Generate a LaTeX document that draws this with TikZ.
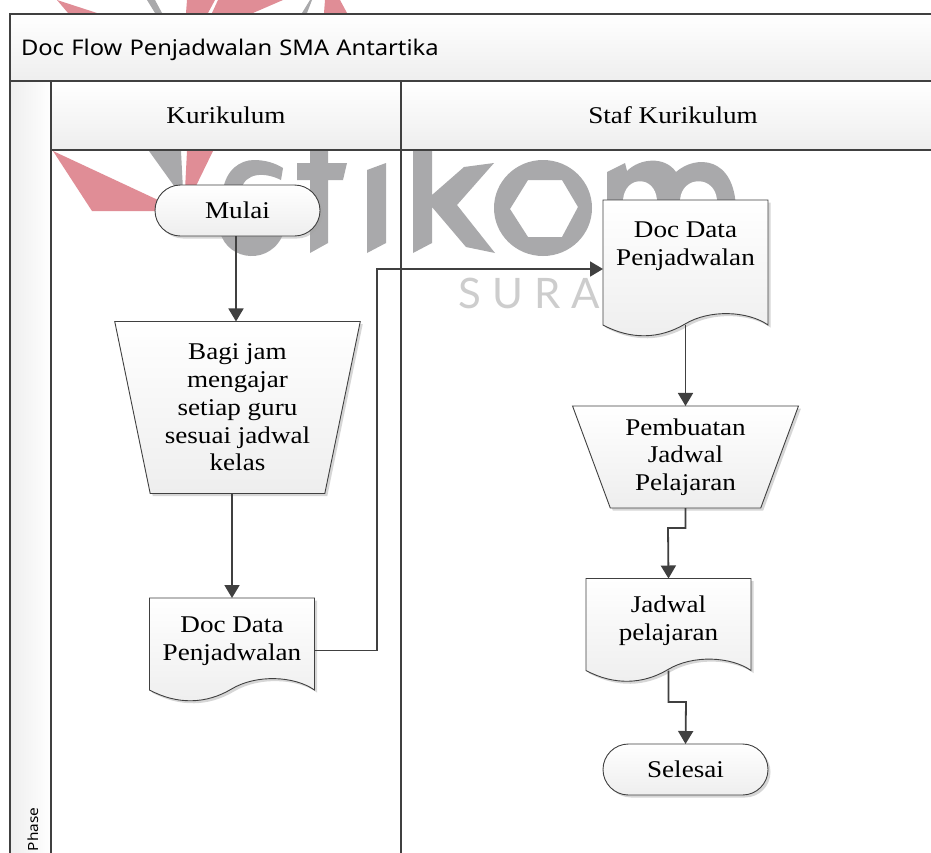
\documentclass[tikz,border=0pt]{standalone}
\usepackage{fontspec}
\setmainfont[FakeStretch=1.13]{Liberation Serif}
\newfontfamily\titlefont[FakeStretch=1.1]{Noto Sans}
\newfontfamily\logofont{Lato}
\usetikzlibrary{arrows.meta,shapes.geometric,shapes.misc,shadows,backgrounds}
\definecolor{linegray}{HTML}{404040}
\definecolor{bandgray}{HTML}{EEEEEE}
\definecolor{logored}{HTML}{E08D96}
\definecolor{logogray}{HTML}{A9A9AB}
\definecolor{logolight}{HTML}{CDCDCD}

\begin{document}
\begin{tikzpicture}[x=1pt,y=-1pt,>={Triangle[length=13pt,width=15pt]},
                    font=\fontsize{24}{27.7}\selectfont,align=center,outer sep=0pt]
  \tikzstyle{band}=[draw=linegray,line width=1.3pt,top color=white,bottom color=bandgray,inner sep=0pt]
  \tikzstyle{softshadow}=[drop shadow={shadow xshift=2.5pt,shadow yshift=-2.5pt,fill=black!35,opacity=.45}]
  \tikzstyle{shapefill}=[draw=linegray,line width=.9pt,top color=white,bottom color=bandgray,softshadow]
  \tikzstyle{terminal}=[rounded rectangle,shapefill,minimum width=165pt,minimum height=51pt,inner sep=0pt]
  \tikzstyle{manual}=[trapezium,shape border rotate=180,trapezium stretches=true,shapefill,inner sep=0pt]
  \tikzstyle{document}=[minimum width=165pt,inner sep=0pt]
  \tikzstyle{flow}=[->,draw=linegray,line width=1.8pt]
  \tikzstyle{logopart}=[fill=logored,draw=none]
  \tikzstyle{logoletter}=[fill=logogray,draw=none]

  \useasboundingbox (0,0) rectangle (931,852);
  \clip (0,0) rectangle (931,852);

  \begin{scope}[on background layer]
    \clip (0,0) rectangle (931,852);
    \fill[white] (0,0) rectangle (931,852);
    % logo behind the chart
    \path[logopart] (57,0) -- (97,13) -- (68,13) -- cycle;
    \path[logopart] (187,0) -- (215,0) -- (208,13) -- (186,13) -- cycle;
    \path[logopart] (218,0) -- (283,0) -- (253,13) -- (212,13) -- cycle;
    \path[logopart] (325,0) -- (340,0) -- (347,13) -- (324,13) -- cycle;
    \path[logopart] (53,151) -- (92,211) -- (158,211) -- (158,200) -- cycle;
    \path[logopart] (187,151) -- (213,151) -- (194,190) -- (185,190) -- cycle;
    \path[logoletter] (147,0) -- (155,0) -- (162,13) -- (155,13) -- cycle;
    \path[logoletter] (310,0) -- (312,0) -- (307,13) -- (302,13) -- cycle;
    \path[logoletter] (149,151) -- (181,151) -- (183,190) -- (177,190) -- cycle;
    \path[logoletter] (223,190) .. controls (226,170) and (240,160) .. (254,160)
        .. controls (265,160) and (275,163) .. (283,168) -- (281,180)
        .. controls (265,172) and (245,172) .. (241,190) -- cycle;
    \path[logoletter] (220,232) .. controls (228,262) and (272,266) .. (284,232) -- cycle;
    \path[logoletter] (310,151) -- (328,151) -- (328,163) -- (347,163) -- (343,180) -- (328,180)
        -- (328,243) -- (310,253) -- (310,180) -- (297,180) -- (297,163) -- (310,163) -- cycle;
    \path[logoletter] (367,170) -- (386,163) -- (386,243) -- (367,253) -- cycle;
    \path[logoletter] (413,151) -- (432,151) -- (432,195) -- (464,167) -- (494,163) -- (457,205)
        -- (495,253) -- (466,247) -- (432,207) -- (432,243) -- (413,253) -- cycle;
    \path[logoletter,even odd rule] (543,208) ellipse [x radius=49,y radius=48]
        (510,209) -- (528,180) -- (562,180) -- (578,207) -- (562,237) -- (528,237) -- cycle;
    \path[logoletter] (607,210) -- (607,172) -- (625,163) -- (627,171)
        .. controls (640,158) and (665,156) .. (676,172)
        .. controls (695,155) and (735,155) .. (736,210) -- cycle;
    \fill[white] (623,210) -- (623,200) .. controls (625,175) and (655,175) .. (657,200) -- (657,210) -- cycle;
    \fill[white] (680,210) -- (680,200) .. controls (682,175) and (715,175) .. (717,200) -- (717,210) -- cycle;
  \end{scope}
  \node[font=\logofont\fontsize{42}{42}\selectfont,text=logolight,anchor=west] (city) at (455,293) {S\hspace{11pt}U\hspace{11pt}R\hspace{11pt}A};

  % swimlane frame
  \node[band,anchor=north west,minimum width=950pt,minimum height=67pt,text width=929pt,align=left,inner xsep=11pt,text depth=1pt,
        font=\titlefont\fontsize{21.6}{24}\selectfont] (title) at (10,14) {Doc Flow Penjadwalan SMA Antartika};
  \node[band,anchor=north west,minimum width=41pt,minimum height=800pt,shading angle=-90] (phase) at (10,81) {};
  \node[band,anchor=north west,minimum width=350pt,minimum height=69pt] (lane1) at (51,81) {Kurikulum};
  \node[band,anchor=north west,minimum width=544pt,minimum height=69pt] (lane2) at (401,81) {Staf Kurikulum};
  \node[rotate=90,anchor=west,font=\titlefont\fontsize{14}{16}\selectfont,inner sep=0pt] (phaselabel) at (33,851) {Phase};
  \coordinate (lanefoot) at (401,881);
  \draw[draw=linegray,line width=1.3pt] (lane2.south west) -- (lanefoot);

  \node[terminal] (mulai) at (237.5,210.5) {Mulai};
  \node[manual,trapezium angle=76.9,minimum width=246pt,minimum height=172pt] (jam) [below of=mulai,node distance=197pt]
      {Bagi jam\\mengajar\\setiap guru\\sesuai jadwal\\kelas};
  \node[document,minimum height=86pt] (doc1) [below of=jam,node distance=233.5pt,xshift=-5.5pt] {Doc Data\\Penjadwalan};

  \node[document,minimum height=92pt] (doc2) [right of=mulai,node distance=448pt,yshift=-35.5pt] {Doc Data\\Penjadwalan};
  \node[manual,trapezium angle=68.6,minimum width=226pt,minimum height=102pt] (buat) [below of=doc2,node distance=211pt]
      {Pembuatan\\Jadwal\\Pelajaran};
  \node[document,minimum height=85pt] (doc3) [below of=buat,node distance=164pt,xshift=-17pt] {Jadwal\\pelajaran};
  \node[terminal] (selesai) [below of=doc3,node distance=148.5pt,xshift=17pt] {Selesai};

  \begin{scope}[on background layer]
    \clip (0,0) rectangle (931,852);
    \foreach \name/\extra in {doc1/6,doc2/33,doc3/7}
      \draw[shapefill] (\name.north west) -- (\name.north east) -- ([yshift=-\extra*1pt]\name.south east)
          .. controls +(-20,-14) and +(25,-15) .. ++(-83,-1)
          .. controls +(-25,15) and +(28,15) .. ([yshift=-\extra*1pt]\name.south west) -- cycle;
  \end{scope}

  \coordinate (bus1) at (377,269);
  \coordinate (bend2) at (668,528);
  \coordinate (bend3) at (686,702);

  \draw[flow] ([xshift=-1.5pt]mulai.south) -- (jam.north -| 236,0);
  \draw[flow] (jam.south -| doc1.north) -- (doc1.north);
  \draw[flow] ([yshift=-9.5pt]doc1.east) -| (bus1) -- (bus1 -| doc2.west);
  \draw[flow] ([yshift=-33pt]doc2.south) -- (buat.north -| doc2.south);
  \draw[flow] (buat.south) |- (bend2) -- (doc3.north);
  \draw[flow] ([yshift=-7pt]doc3.south) |- (bend3) -- (selesai.north);
\end{tikzpicture}
\end{document}
